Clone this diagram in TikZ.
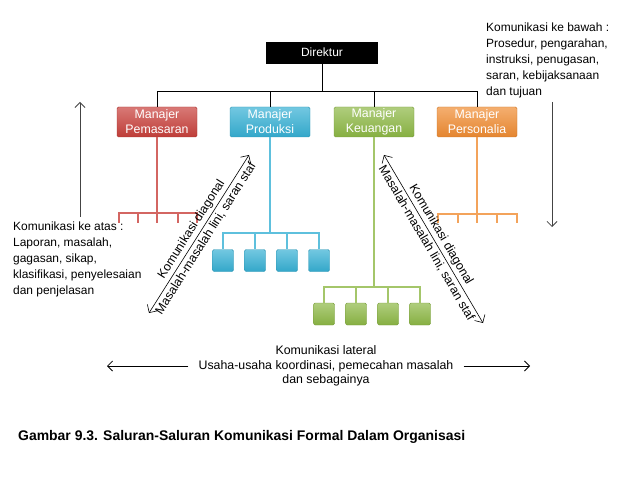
\documentclass[tikz,border=0pt]{standalone}
\usepackage{fontspec}
\setmainfont{Liberation Sans}
\usepackage{tikz}
\usetikzlibrary{arrows.meta, positioning}
\definecolor{mred}{HTML}{C8403B}
\definecolor{mblue}{HTML}{36B0D4}
\definecolor{mgreen}{HTML}{8DB845}
\definecolor{morange}{HTML}{F08C32}
\definecolor{arrowgray}{HTML}{444444}

\begin{document}
\begin{tikzpicture}[
    x=1bp, y=1bp,
    every node/.style={font=\fontsize{12}{16}\selectfont},
    boss/.style={
        rectangle,
        draw=black,
        fill=black,
        text=white,
        minimum width=111bp,
        minimum height=21bp,
        inner sep=0pt,
        font=\fontsize{12}{14}\selectfont
    },
    mgr/.style={
        rectangle,
        rounded corners=1.5bp,
        draw=#1!85!black,
        top color=#1!70!white,
        bottom color=#1!95!black,
        text=white,
        minimum width=80bp,
        minimum height=30bp,
        inner sep=0pt,
        align=center,
        font=\fontsize{12.4}{15}\selectfont
    },
    staff/.style={
        rectangle,
        rounded corners=1.5bp,
        draw=#1!85!black,
        top color=#1!70!white,
        bottom color=#1!95!black,
        minimum width=21bp,
        minimum height=22bp,
        inner sep=0pt
    },
    link/.style={line width=0.9bp, draw=black},
    branch/.style={line width=2bp, draw=#1!80!white},
    twoway/.style={line width=0.6bp, {Straight Barb[length=6bp]}-{Straight Barb[length=6bp]}},
    oneway/.style={line width=0.8bp, draw=arrowgray, -{Straight Barb[length=5bp]}},
    note/.style={align=left, anchor=north west, inner sep=0pt},
    slant/.style={sloped, inner sep=2.5bp, font=\fontsize{12.4}{15}\selectfont}
]
\useasboundingbox (0,0) rectangle (638,-479);

% Top of the chart
\node[boss] (dir) at (322,-52.5) {Direktur};
\coordinate (top) at (322,-91);

\node[mgr=mred] (mpem) at (157,-122) {Manajer\\Pemasaran};
\node[mgr=mblue] (mprod) at (270,-122) {Manajer\\Produksi};
\node[mgr=mgreen] (mkeu) at (374,-122) {Manajer\\Keuangan};
\node[mgr=morange] (mpers) at (477,-122) {Manajer\\Personalia};

\draw[link] (dir) -- (top);
\draw[link] (top) -| (mpem);
\draw[link] (top) -| (mprod);
\draw[link] (top) -| (mkeu);
\draw[link] (top) -| (mpers);

% Pemasaran branch
\coordinate (rj) at (157,-213);
\draw[branch=mred] (mpem) -- (rj);
\foreach \x [count=\i] in {119,138,157,178,197} {
    \coordinate (rt\i) at (\x,-223);
    \draw[branch=mred] (rj) -| (rt\i);
}

% Produksi branch
\coordinate (bj) at (270,-233);
\draw[branch=mblue] (mprod) -- (bj);
\foreach \x [count=\i] in {223,255,287,319} {
    \node[staff=mblue] (p\i) at (\x,-260.5) {};
    \draw[branch=mblue] (bj) -| (p\i);
}

% Keuangan branch
\coordinate (gj) at (374,-287);
\draw[branch=mgreen] (mkeu) -- (gj);
\foreach \x [count=\i] in {324,356,388,420} {
    \node[staff=mgreen] (k\i) at (\x,-314) {};
    \draw[branch=mgreen] (gj) -| (k\i);
}

% Personalia branch
\coordinate (oj) at (477,-214);
\draw[branch=morange] (mpers) -- (oj);
\foreach \x [count=\i] in {438,458,477,497,517} {
    \coordinate (ot\i) at (\x,-223);
    \draw[branch=morange] (oj) -| (ot\i);
}

% Upward and downward communication
\coordinate (upa) at (80,-217);
\coordinate (upb) at (80,-102);
\draw[oneway] (upa) -- (upb);
\node[note] (upnote) at (13,-222) {Komunikasi ke atas :\\Laporan, masalah,\\gagasan, sikap,\\klasifikasi, penyelesaian\\dan penjelasan};

\coordinate (downa) at (552,-102);
\coordinate (downb) at (552,-227);
\draw[oneway] (downa) -- (downb);
\node[note] (downnote) at (486,-23) {Komunikasi ke bawah :\\Prosedur, pengarahan,\\instruksi, penugasan,\\saran, kebijaksanaan\\dan tujuan};

% Diagonal communication
\coordinate (dla) at (149,-313);
\coordinate (dlb) at (249,-155);
\draw[twoway] (dla) -- node[slant, above] {Komunikasi diagonal}
    node[slant, below] {Masalah-masalah lini, saran staf} (dlb);

\coordinate (dra) at (384,-155);
\coordinate (drb) at (483,-323);
\draw[twoway] (dra) -- node[slant, above] {Komunikasi diagonal}
    node[slant, below] {Masalah-masalah lini, saran staf} (drb);

% Lateral communication
\node[align=center, inner xsep=10bp, font=\fontsize{12.4}{14.5}\selectfont] (lat) at (326,-366)
    {Komunikasi lateral\\Usaha-usaha koordinasi, pemecahan masalah\\dan sebagainya};
\coordinate (latl) at (107,-366);
\coordinate (latr) at (530,-366);
\draw[oneway, draw=black] (lat.west) -- (latl);
\draw[oneway, draw=black] (lat.east) -- (latr);

% Caption
\node[anchor=west, inner sep=0pt, font=\fontsize{14}{16}\selectfont\bfseries] (cap) at (18,-437)
    {Gambar 9.3. Saluran-Saluran Komunikasi Formal Dalam Organisasi};

\end{tikzpicture}
\end{document}
